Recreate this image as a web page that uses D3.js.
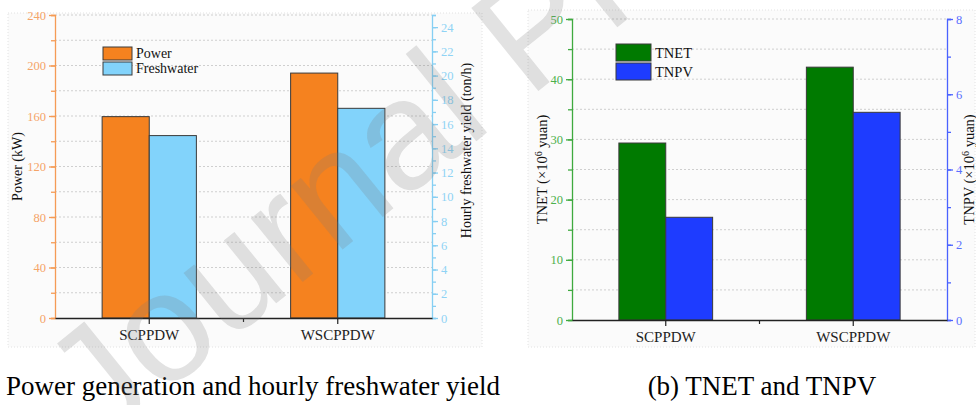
<!DOCTYPE html>
<html>
<head>
<meta charset="utf-8">
<script src="https://cdn.jsdelivr.net/npm/d3@7"></script>
<style>
  body { margin: 0; background: #fff; }
  svg { display: block; font-family: "Liberation Serif", "Times New Roman", serif; }
  svg text { font-family: "Liberation Serif", "Times New Roman", serif; }
  svg text.wm { font-family: "Liberation Sans", Arial, sans-serif; }
</style>
</head>
<body>
<svg id="chart" width="976" height="405"></svg>
<script>
// data
var categories = ["SCPPDW", "WSCPPDW"];
var powerKW = [159.5, 194];
var freshwaterTonH = [15.05, 17.3];
var tnet = [29.4, 42.0];
var tnpv = [2.73, 5.52];

var powerTicks = [0, 40, 80, 120, 160, 200, 240];
var freshTicks = [0, 2, 4, 6, 8, 10, 12, 14, 16, 18, 20, 22, 24];
var tnetTicks = [0, 10, 20, 30, 40, 50];
var tnpvTicks = [0, 2, 4, 6, 8];

var svg = d3.select("#chart");

function panel(o) {
    var g = svg.append("g");

    // faint graph page
    g.append("rect")
        .attr("x", o.page[0]).attr("y", o.page[1])
        .attr("width", o.page[2]).attr("height", o.page[3])
        .attr("fill", "#fbfbfb")
        .attr("stroke", "#e2e2e2").attr("stroke-dasharray", "1,2");

    var x = d3.scaleBand().domain(categories).range([o.left, o.right]);
    var sub = d3.scaleBand().domain([0, 1])
        .range([x.bandwidth() / 4, x.bandwidth() * 3 / 4]);
    var yL = d3.scaleLinear().domain(o.leftDomain).range([o.bottom, o.top]);
    var yR = d3.scaleLinear().domain(o.rightDomain).range([o.bottom, o.top]);

    // dashed grid at every minor step of left axis
    g.append("g").selectAll("line")
        .data(d3.range(o.leftDomain[0] + o.leftMinor, o.leftDomain[1] + 0.001, o.leftMinor))
        .enter().append("line")
        .attr("x1", o.left).attr("x2", o.right)
        .attr("y1", function (d) { return yL(d); })
        .attr("y2", function (d) { return yL(d); })
        .attr("stroke", "#cfcfcf").attr("stroke-dasharray", "2,2");

    // bars
    var series = [o.leftValues, o.rightValues];
    var scales = [yL, yR];
    series.forEach(function (vals, i) {
        g.append("g").selectAll("rect")
            .data(vals).enter().append("rect")
            .attr("x", function (d, j) { return x(categories[j]) + sub(i); })
            .attr("width", sub.bandwidth())
            .attr("y", function (d) { return scales[i](d); })
            .attr("height", function (d) { return o.bottom - scales[i](d); })
            .attr("fill", o.colors[i])
            .attr("stroke", "#3a3a3a").attr("stroke-width", 1);
    });

    // left axis
    var axL = g.append("g").attr("transform", "translate(" + o.left + ",0)")
        .call(d3.axisLeft(yL).tickValues(d3.range(o.leftDomain[0], o.leftDomain[1] + 0.001, o.leftMinor))
            .tickSize(4).tickFormat(""));
    axL.selectAll("line,path").attr("stroke", o.leftAxisColor).attr("stroke-width", 1.3);
    var axL2 = g.append("g").attr("transform", "translate(" + o.left + ",0)")
        .call(d3.axisLeft(yL).tickValues(o.leftTicks).tickSize(6).tickPadding(3));
    axL2.select("path").remove();
    axL2.selectAll("line").attr("stroke", o.leftAxisColor).attr("stroke-width", 1.3);
    axL2.selectAll("text").attr("fill", o.leftTextColor).style("font-size", o.tickFont + "px");

    // right axis
    var axR = g.append("g").attr("transform", "translate(" + o.right + ",0)")
        .call(d3.axisRight(yR).tickValues(d3.range(o.rightDomain[0], o.rightDomain[1] + 0.001, o.rightMinor))
            .tickSize(4).tickFormat(""));
    axR.selectAll("line,path").attr("stroke", o.rightAxisColor).attr("stroke-width", 1.3);
    var axR2 = g.append("g").attr("transform", "translate(" + o.right + ",0)")
        .call(d3.axisRight(yR).tickValues(o.rightTicks).tickSize(6).tickPadding(3));
    axR2.select("path").remove();
    axR2.selectAll("line").attr("stroke", o.rightAxisColor).attr("stroke-width", 1.3);
    axR2.selectAll("text").attr("fill", o.rightTextColor).style("font-size", o.tickFont + "px");

    // x axis
    var axX = g.append("g").attr("transform", "translate(0," + o.bottom + ")")
        .call(d3.axisBottom(x).tickSize(6).tickSizeOuter(0).tickPadding(5));
    axX.select("path").attr("stroke", "#222").attr("stroke-width", 1.3);
    axX.selectAll("line").attr("stroke", "#222").attr("stroke-width", 1.2);
    axX.selectAll("text").attr("fill", "#222").style("font-size", "15px");
    // minor tick between the groups
    g.append("line")
        .attr("x1", x(categories[1])).attr("x2", x(categories[1]))
        .attr("y1", o.bottom).attr("y2", o.bottom + 4)
        .attr("stroke", "#222").attr("stroke-width", 1.2);

    // axis titles
    var mid = (o.top + o.bottom) / 2;
    g.append("text")
        .attr("transform", "translate(" + o.leftTitleX + "," + (mid + o.leftTitleDy) + ") rotate(-90)")
        .attr("text-anchor", "middle").attr("fill", "#111")
        .style("font-size", o.titleFont + "px")
        .html(o.leftTitle);
    g.append("text")
        .attr("transform", "translate(" + o.rightTitleX + "," + (mid + o.rightTitleDy) + ") rotate(-90)")
        .attr("text-anchor", "middle").attr("fill", "#111")
        .style("font-size", o.titleFont + "px")
        .html(o.rightTitle);

    // legend
    var lg = g.append("g").attr("transform", "translate(" + o.legend[0] + "," + o.legend[1] + ")");
    o.names.forEach(function (n, i) {
        lg.append("rect")
            .attr("x", 0).attr("y", i * o.legendStep)
            .attr("width", o.legendBox[0]).attr("height", o.legendBox[1])
            .attr("fill", o.colors[i]).attr("stroke", "#3a3a3a");
        lg.append("text")
            .attr("x", o.legendBox[0] + 4).attr("y", i * o.legendStep + o.legendBox[1] / 2)
            .attr("dy", "0.35em").attr("fill", "#111")
            .style("font-size", o.legendFont + "px")
            .text(n);
    });

    // caption
    g.append("text")
        .attr("x", o.caption[0]).attr("y", o.caption[1])
        .attr("text-anchor", o.captionAnchor).attr("fill", "#000")
        .style("font-size", "27px")
        .text(o.captionText);
}

panel({
    page: [8, 13, 474, 334],
    left: 55, right: 432, top: 15, bottom: 318,
    leftDomain: [0, 240], leftMinor: 20, leftTicks: powerTicks,
    rightDomain: [0, 25], rightMinor: 1, rightTicks: freshTicks,
    leftValues: powerKW, rightValues: freshwaterTonH,
    colors: ["#f5821f", "#82d3fb"],
    leftAxisColor: "#f59b55", leftTextColor: "#f5a468",
    rightAxisColor: "#86cff3", rightTextColor: "#8fd3f5",
    tickFont: 12.5, titleFont: 14,
    leftTitle: "Power (kW)", leftTitleX: 22, leftTitleDy: 0,
    rightTitle: "Hourly freshwater yield (ton/h)", rightTitleX: 471, rightTitleDy: -16,
    names: ["Power", "Freshwater"], legend: [103, 47], legendBox: [29, 13], legendStep: 15, legendFont: 14,
    caption: [500, 395], captionAnchor: "end",
    captionText: "(a) Power generation and hourly freshwater yield"
});

panel({
    page: [528, 10, 447, 337],
    left: 572, right: 947, top: 19, bottom: 320,
    leftDomain: [0, 50], leftMinor: 5, leftTicks: tnetTicks,
    rightDomain: [0, 8], rightMinor: 1, rightTicks: tnpvTicks,
    leftValues: tnet, rightValues: tnpv,
    colors: ["#007a00", "#1e3cff"],
    leftAxisColor: "#3faa3f", leftTextColor: "#4cb04c",
    rightAxisColor: "#4a62ff", rightTextColor: "#5a70ff",
    tickFont: 12.5, titleFont: 14.5,
    leftTitle: "TNET (\u00d710<tspan dy='-5' font-size='10'>6</tspan><tspan dy='5'> yuan)</tspan>",
    leftTitleX: 547, leftTitleDy: 0,
    rightTitle: "TNPV (\u00d710<tspan dy='-5' font-size='10'>6</tspan><tspan dy='5'> yuan)</tspan>",
    rightTitleX: 974, rightTitleDy: 0,
    names: ["TNET", "TNPV"], legend: [616, 44], legendBox: [35, 17], legendStep: 19, legendFont: 14.5,
    caption: [762, 395], captionAnchor: "middle",
    captionText: "(b) TNET and TNPV"
});

// "Journal Pre-proof" watermark laid over the figure
svg.append("text")
    .attr("class", "wm")
    .attr("transform", "translate(100,446) rotate(-39)")
    .attr("fill", "#7a7a7a").attr("fill-opacity", 0.22)
    .style("font-size", "155px")
    .text("Journal Pre-proof");
</script>
</body>
</html>
